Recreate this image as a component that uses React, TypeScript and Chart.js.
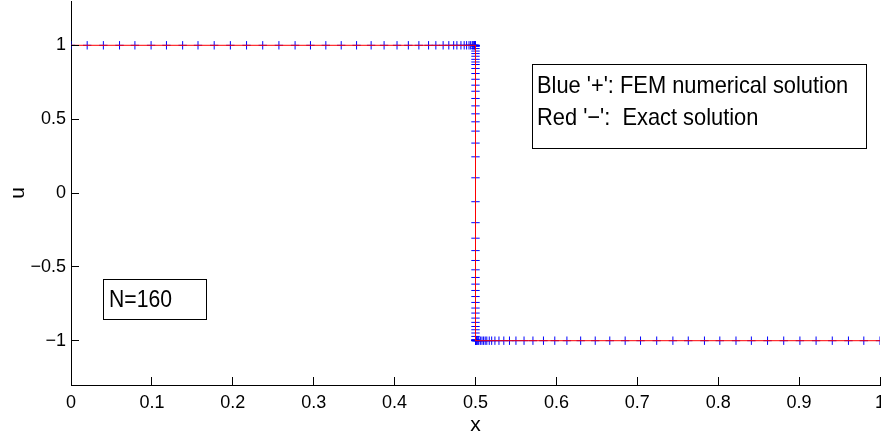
import React, { useEffect, useRef } from "react";
import { Chart, registerables } from "chart.js";

Chart.register(...registerables);

// FEM nodes where u = 1 (left of the jump)
const leftX = [
  0, 0.02, 0.04, 0.06, 0.079, 0.099, 0.118, 0.138, 0.157, 0.177, 0.197, 0.217,
  0.237, 0.257, 0.277, 0.296, 0.315, 0.334, 0.353, 0.371, 0.387, 0.403, 0.417,
  0.43, 0.442, 0.451, 0.46, 0.467, 0.473, 0.477, 0.482, 0.486, 0.489, 0.492,
  0.494, 0.496, 0.497, 0.498, 0.4988, 0.4994, 0.4998,
];
// FEM values on the jump at x = 0.5
const jumpU = [
  1.0, 0.998, 0.996, 0.993, 0.978, 0.961, 0.944, 0.926, 0.905, 0.887, 0.87,
  0.843, 0.809, 0.77, 0.73, 0.689, 0.64, 0.59, 0.536, 0.482, 0.419, 0.338,
  0.245, 0.103, -0.059, -0.201, -0.306, -0.39, -0.457, -0.52, -0.572, -0.617,
  -0.66, -0.701, -0.741, -0.779, -0.813, -0.847, -0.876, -0.904, -0.926,
  -0.948, -0.971, -0.993, -0.996, -0.998, -1.0,
];
// FEM nodes where u = -1 (right of the jump)
const rightX = [
  0.5002, 0.5006, 0.501, 0.502, 0.503, 0.504, 0.506, 0.508, 0.51, 0.512, 0.514,
  0.517, 0.52, 0.524, 0.529, 0.535, 0.542, 0.55, 0.56, 0.571, 0.584, 0.598,
  0.613, 0.63, 0.648, 0.666, 0.685, 0.704, 0.724, 0.744, 0.763, 0.783, 0.802,
  0.822, 0.841, 0.861, 0.881, 0.901, 0.921, 0.941, 0.961, 0.98, 1.0,
];
const leftU = 1;
const rightU = -1;
const jumpX = 0.5;

// exact solution
const exactX = [0, 0.5, 0.5, 1];
const exactU = [1, 1, -1, -1];

const xTicks = [0, 0.1, 0.2, 0.3, 0.4, 0.5, 0.6, 0.7, 0.8, 0.9, 1];
const yTicks = [-1, -0.5, 0, 0.5, 1];

const legendLines = ["Blue '+': FEM numerical solution", "Red '\u2212':  Exact solution"];
const noteText = "N=160";
const xTitle = "x";
const yTitle = "u";

const FONT = '"Liberation Sans", Arial, Helvetica, sans-serif';

function drawCondensed(ctx: CanvasRenderingContext2D, text: string, x: number, y: number, size: number, sx: number) {
  ctx.save();
  ctx.translate(x, y);
  ctx.scale(sx, 1);
  ctx.font = `${size}px ${FONT}`;
  ctx.textAlign = "left";
  ctx.textBaseline = "alphabetic";
  ctx.fillStyle = "#000";
  ctx.fillText(text, 0, 0);
  ctx.restore();
}

const overlayPlugin = {
  id: "overlay",
  afterDraw(chart: any) {
    const ctx: CanvasRenderingContext2D = chart.ctx;
    const xs = chart.scales.x;
    const ys = chart.scales.y;
    const left = chart.chartArea.left;
    const bottom = chart.chartArea.bottom;
    ctx.save();
    // inward tick marks
    ctx.strokeStyle = "#000000";
    ctx.lineWidth = 1;
    ctx.setLineDash([]);
    ctx.beginPath();
    xTicks.forEach((v) => {
      const px = Math.min(Math.floor(xs.getPixelForValue(v)), 880) + 0.5;
      ctx.moveTo(px, bottom);
      ctx.lineTo(px, bottom - 8);
    });
    yTicks.forEach((v) => {
      const py = Math.floor(ys.getPixelForValue(v)) + 0.5;
      ctx.moveTo(left, py);
      ctx.lineTo(left + 8, py);
    });
    ctx.stroke();

    // legend text box
    ctx.fillStyle = "#fff";
    ctx.fillRect(532.5, 64.5, 334, 84);
    ctx.strokeStyle = "#000";
    ctx.strokeRect(532.5, 64.5, 334, 84);
    drawCondensed(ctx, legendLines[0], 537, 93, 24, 0.91);
    drawCondensed(ctx, legendLines[1], 537, 125, 24, 0.91);

    // N box
    ctx.fillStyle = "#fff";
    ctx.fillRect(103.5, 279.5, 103, 40);
    ctx.strokeRect(103.5, 279.5, 103, 40);
    drawCondensed(ctx, noteText, 109, 307, 23, 0.92);

    // axis titles
    ctx.fillStyle = "#000";
    ctx.font = `21px ${FONT}`;
    ctx.textAlign = "center";
    ctx.textBaseline = "alphabetic";
    ctx.fillText(xTitle, (xs.getPixelForValue(0) + xs.getPixelForValue(1)) / 2, 431);
    ctx.save();
    ctx.translate(24, ys.getPixelForValue(0));
    ctx.rotate(-Math.PI / 2);
    ctx.fillText(yTitle, 0, 0);
    ctx.restore();
    ctx.restore();
  },
};

export default function App() {
  const ref = useRef<HTMLCanvasElement | null>(null);
  useEffect(() => {
    if (!ref.current) return;
    const femPoints = [
      ...leftX.map((x) => ({ x, y: leftU })),
      ...jumpU.map((u) => ({ x: jumpX, y: u })),
      ...rightX.map((x) => ({ x, y: rightU })),
    ];
    const exactPoints = exactX.map((x, i) => ({ x, y: exactU[i] }));
    const fmt = (v: number) => String(v).replace("-", "\u2212");
    const chart = new Chart(ref.current, {
      type: "scatter",
      data: {
        datasets: [
          {
            label: "Exact",
            data: exactPoints,
            showLine: true,
            borderColor: "#ff0000",
            borderWidth: 1,
            pointRadius: 0,
            fill: false,
          },
          {
            label: "FEM",
            data: femPoints,
            showLine: false,
            pointStyle: "cross",
            pointRadius: 4.2,
            pointBorderColor: "#0000ff",
            pointBorderWidth: 1,
            borderColor: "#0000ff",
          },
        ],
      },
      options: {
        animation: false,
        responsive: false,
        layout: { autoPadding: false, padding: { top: 1, right: 1, left: 0, bottom: 0 } },
        plugins: { legend: { display: false }, tooltip: { enabled: false } },
        scales: {
          x: {
            type: "linear",
            min: 0,
            max: 1,
            grid: { display: false, drawTicks: false, tickLength: 0 },
            border: { display: true, color: "#000", width: 1 },
            ticks: {
              color: "#000",
              font: { size: 18, family: FONT },
              padding: 7,
              maxRotation: 0,
              callback: (v: any) => fmt(Number(v)),
            },
            afterBuildTicks: (s: any) => {
              s.ticks = xTicks.map((value) => ({ value }));
            },
            afterFit: (s: any) => {
              s.height = 52;
              s.paddingLeft = 0;
              s.paddingRight = 0;
            },
          },
          y: {
            type: "linear",
            min: -1.3,
            max: 1.3,
            grid: { display: false, drawTicks: false, tickLength: 0 },
            border: { display: true, color: "#000", width: 1 },
            ticks: {
              color: "#000",
              font: { size: 18, family: FONT },
              padding: 5,
              callback: (v: any) => fmt(Number(v)),
            },
            afterBuildTicks: (s: any) => {
              s.ticks = yTicks.map((value) => ({ value }));
            },
            afterFit: (s: any) => {
              s.width = 71;
              s.paddingTop = 0;
              s.paddingBottom = 0;
            },
          },
        },
      },
      plugins: [overlayPlugin],
    });
    return () => chart.destroy();
  }, []);
  return (
    <div style={{ position: "absolute", left: 0, top: 0, width: 881, height: 437, background: "#fff" }}>
      <canvas ref={ref} width={881} height={437} />
    </div>
  );
}
